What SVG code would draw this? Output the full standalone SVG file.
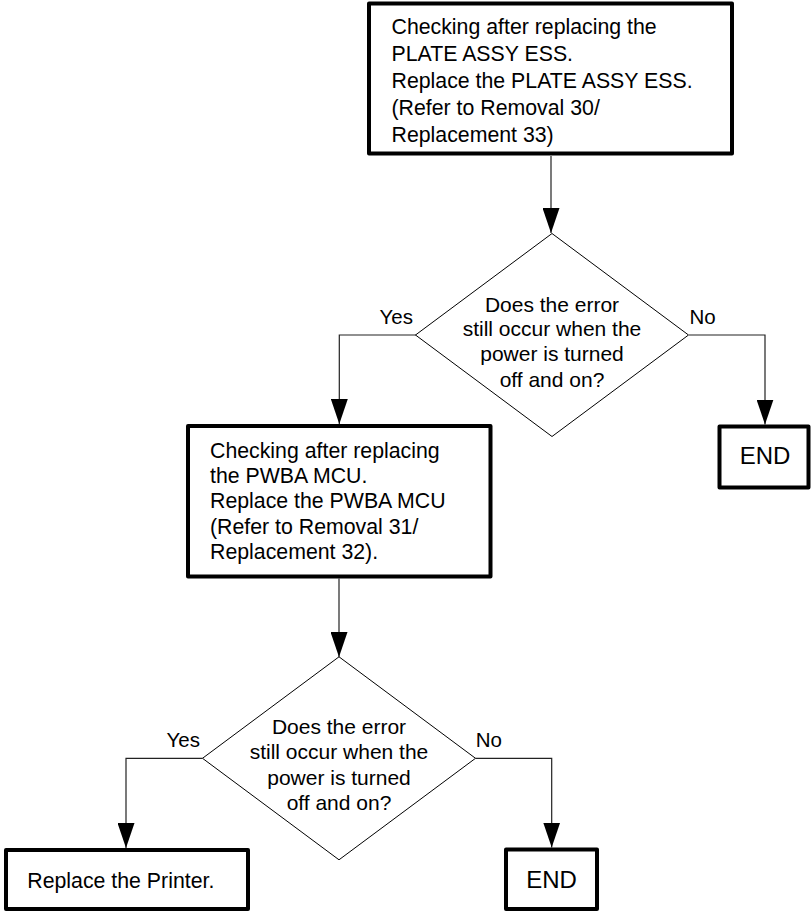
<svg xmlns="http://www.w3.org/2000/svg" width="811" height="912" viewBox="0 0 811 912">
<style>
.box{fill:#fff;stroke:#000;stroke-width:4;stroke-linejoin:round}
.dia{fill:#fff;stroke:#000;stroke-width:1}
.con{fill:none;stroke:#222;stroke-width:1.2}
text{font-family:"Liberation Sans",Arial,sans-serif;font-size:21.3px;fill:#000}
.c{text-anchor:middle;font-size:21px}
.end{font-size:24px;text-anchor:middle}
.lbl{font-size:20.5px}
</style>
<defs>
<marker id="arr" viewBox="0 0 25 17" refX="25" refY="8.5" markerWidth="25" markerHeight="17" markerUnits="userSpaceOnUse" orient="auto">
<path d="M0,0 L25,8.5 L0,17 Z" fill="#000"/>
</marker>
</defs>
<g id="connectors">
<line class="con" x1="551" y1="156" x2="551" y2="233" marker-end="url(#arr)"/>
<polyline class="con" points="416,335 339.3,335 339.3,424" marker-end="url(#arr)"/>
<polyline class="con" points="689,335 765,335 765,424.5" marker-end="url(#arr)"/>
<line class="con" x1="339" y1="578.5" x2="339" y2="657" marker-end="url(#arr)"/>
<polyline class="con" points="202.5,758.3 126,758.3 126,848" marker-end="url(#arr)"/>
<polyline class="con" points="475.5,758.3 551.7,758.3 551.7,847.5" marker-end="url(#arr)"/>
<text class="lbl" x="413" y="324" text-anchor="end">Yes</text>
<text class="lbl" x="689.5" y="324">No</text>
<text class="lbl" x="200" y="747.3" text-anchor="end">Yes</text>
<text class="lbl" x="475.7" y="747.3">No</text>
</g>
<g id="box1">
<rect class="box" x="369" y="3.5" width="363" height="150"/>
<text x="391.5" y="34.3">Checking after replacing the</text>
<text x="391.5" y="61.1">PLATE ASSY ESS.</text>
<text x="391.5" y="88">Replace the PLATE ASSY ESS.</text>
<text x="391.5" y="114.8">(Refer to Removal 30/</text>
<text x="391.5" y="141.7">Replacement 33)</text>
</g>
<g id="decision1">
<polygon class="dia" points="552,233.5 688.5,335 552,436.5 415.5,335"/>
<text class="c" x="552" y="311.5">Does the error</text>
<text class="c" x="552" y="336">still occur when the</text>
<text class="c" x="552" y="361">power is turned</text>
<text class="c" x="552" y="386.5">off and on?</text>
</g>
<g id="end1">
<rect class="box" x="719.5" y="426.5" width="89" height="61"/>
<text class="end" x="765" y="464.3">END</text>
</g>
<g id="box2">
<rect class="box" x="188" y="426" width="302.5" height="150.5"/>
<text x="210" y="457.5">Checking after replacing</text>
<text x="210" y="482.8">the PWBA MCU.</text>
<text x="210" y="508.2">Replace the PWBA MCU</text>
<text x="210" y="533.6">(Refer to Removal 31/</text>
<text x="210" y="559">Replacement 32).</text>
</g>
<g id="decision2">
<polygon class="dia" points="339,656.8 475.5,758.3 339,859.8 202.5,758.3"/>
<text class="c" x="339" y="734">Does the error</text>
<text class="c" x="339" y="759">still occur when the</text>
<text class="c" x="339" y="784.5">power is turned</text>
<text class="c" x="339" y="810">off and on?</text>
</g>
<g id="replace">
<rect class="box" x="6" y="850" width="242" height="59"/>
<text x="27.3" y="887.7">Replace the Printer.</text>
</g>
<g id="end2">
<rect class="box" x="506" y="849.5" width="91" height="59.5"/>
<text class="end" x="551.5" y="888.3">END</text>
</g>
</svg>
